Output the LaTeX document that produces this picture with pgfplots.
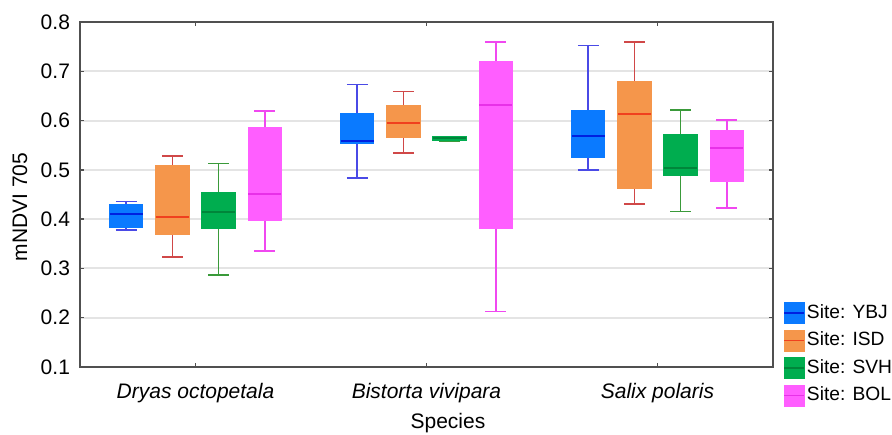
\documentclass[border=0pt]{standalone}
\usepackage{pgfplots}
\pgfplotsset{compat=1.18}
\usepgfplotslibrary{statistics}
\usepackage{fontspec}
\setmainfont{Liberation Sans}
\definecolor{blueF}{HTML}{0A7AFF}
\definecolor{blueM}{HTML}{0020E0}
\definecolor{blueW}{HTML}{4A4AE6}
\definecolor{orangeF}{HTML}{F5964B}
\definecolor{orangeM}{HTML}{F0401E}
\definecolor{orangeW}{HTML}{D04848}
\definecolor{greenF}{HTML}{00AD4F}
\definecolor{greenM}{HTML}{00853A}
\definecolor{greenW}{HTML}{3A9A3A}
\definecolor{pinkF}{HTML}{FF5EFF}
\definecolor{pinkM}{HTML}{E830E8}
\definecolor{pinkW}{HTML}{F048F0}
\definecolor{gridc}{HTML}{E4E4E4}
\definecolor{framec}{HTML}{505050}
\newcommand{\bx}[7]{\addplot[forget plot, draw=#2W, line width=0.75pt,
  boxplot/draw direction=y,
  boxplot prepared={draw position=#1, lower whisker=#3, lower quartile=#4,
  median=#5, upper quartile=#6, upper whisker=#7, box extend=0.143, whisker extend=0.09},
  boxplot/every box/.style={fill=#2F, draw=#2F},
  boxplot/every median/.style={draw=#2M, line width=1pt}] coordinates {};}
\newcommand{\lgimg}[1]{\addlegendimage{legend image code/.code={\fill[#1F] (0pt,-5.25pt) rectangle (10pt,5.25pt); \draw[#1M, line width=0.8pt] (0pt,0pt) -- (10pt,0pt);}}}
\begin{document}
\begin{tikzpicture}
\path[use as bounding box] (0,0) rectangle (446pt,217pt);
\begin{axis}[
  at={(40pt,33.5pt)}, anchor=south west,
  scale only axis, width=346.5pt, height=172.5pt,
  xmin=-0.5, xmax=2.5, ymin=0.1, ymax=0.8,
  xtick={0,1,2},
  xticklabels={Dryas octopetala, Bistorta vivipara, Salix polaris},
  ytick={0.1,0.2,0.3,0.4,0.5,0.6,0.7,0.8},
  ymajorgrids, major grid style={color=gridc, line width=1pt},
  axis line style={color=framec, line width=0.9pt},
  tick align=inside, tick pos=both, major tick length=2pt,
  tick style={color=framec, line width=0.7pt},
  /pgf/number format/assume math mode=true,
  yticklabel style={font=\fontsize{10.5}{12}\selectfont, /pgf/number format/fixed, /pgf/number format/precision=1, /pgf/number format/fixed zerofill, xshift=-1.5pt},
  xticklabel style={font=\fontsize{10.5}{12}\selectfont\itshape, yshift=-4.5pt},
  xlabel={Species},
  xlabel style={at={(axis description cs:0.531,-0.162)}, anchor=center, font=\fontsize{10.5}{12}\selectfont},
  ylabel={mNDVI 705},
  ylabel style={at={(axis description cs:-0.0866,0.4638)}, anchor=center, font=\fontsize{10.5}{12}\selectfont},
  legend style={at={(1.0144,0.197)}, anchor=north west, draw=none, fill=none,
    font=\fontsize{9.6}{12}\selectfont, inner sep=0pt, row sep=0pt,
    nodes={inner sep=1pt, text height=8.5pt, text depth=3.25pt}},
  legend cell align=left,
]
% Dryas octopetala
\bx{-0.30}{blue}{0.378}{0.383}{0.411}{0.430}{0.436}
\bx{-0.10}{orange}{0.323}{0.369}{0.405}{0.509}{0.528}
\bx{0.10}{green}{0.287}{0.382}{0.414}{0.454}{0.513}
\bx{0.30}{pink}{0.335}{0.398}{0.452}{0.585}{0.619}
% Bistorta vivipara
\bx{0.70}{blue}{0.483}{0.555}{0.558}{0.614}{0.673}
\bx{0.90}{orange}{0.534}{0.567}{0.596}{0.630}{0.659}
\bx{1.10}{green}{0.559}{0.560}{0.564}{0.567}{0.568}
\bx{1.30}{pink}{0.213}{0.382}{0.631}{0.719}{0.759}
% Salix polaris
\bx{1.70}{blue}{0.500}{0.526}{0.569}{0.619}{0.752}
\bx{1.90}{orange}{0.431}{0.463}{0.614}{0.678}{0.759}
\bx{2.10}{green}{0.416}{0.489}{0.503}{0.571}{0.621}
\bx{2.30}{pink}{0.423}{0.476}{0.544}{0.579}{0.601}
\lgimg{blue}\addlegendentry{Site: YBJ}
\lgimg{orange}\addlegendentry{Site: ISD}
\lgimg{green}\addlegendentry{Site: SVH}
\lgimg{pink}\addlegendentry{Site: BOL}
\end{axis}
\end{tikzpicture}
\end{document}
